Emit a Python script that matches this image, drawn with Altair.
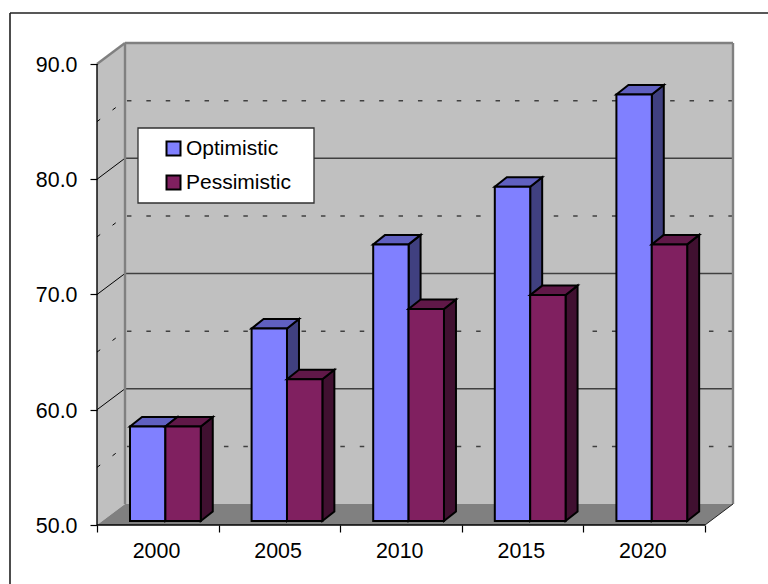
import altair as alt
import pandas as pd

# Series read by year
years = [2000, 2005, 2010, 2015, 2020]
series_names = ["Optimistic", "Pessimistic"]
optimistic = [58.2, 66.7, 74.0, 79.0, 87.0]
pessimistic = [58.2, 62.3, 68.4, 69.6, 74.0]

# Face shades per series: front, top, side
front_colors = ["#8080FF", "#802060"]
top_colors = ["#6060C0", "#601848"]
side_colors = ["#404080", "#401030"]

FONT = "Liberation Sans"
FONT_SIZE = 21
AXIS_FONT_SIZE = 21.4

# Plot size and how the oblique box projects into axis units
WIDTH, HEIGHT = 636, 482
X_MIN, X_FRONT = 1997.5, 2022.5
Y_MIN, Y_FRONT = 50.0, 90.0
DEPTH_X = 1.1513
DEPTH_Y = 1.822

# Bars sit slightly inside the floor and have a shallower depth of their own
BAR_OFFSET = -1.143
BAR_WIDTH = 1.455
BAR_RAISE = 0.347
BAR_DEPTH_X = 0.493
BAR_DEPTH_Y = 0.824

x_scale = alt.Scale(domain=[X_MIN, X_FRONT + DEPTH_X], nice=False, zero=False)
y_scale = alt.Scale(domain=[Y_MIN, Y_FRONT + DEPTH_Y], nice=False, zero=False)

# Ticks stand on the front plane, year labels are centred between them
tick_positions = [y - 2.5 for y in years] + [years[-1] + 2.5]
x_axis = alt.Axis(
    title=None,
    values=tick_positions,
    labelExpr=f"datum.value < {years[-1]} ? format(datum.value + 2.5, 'd') : ''",
    labelOffset=59,
    labelPadding=8,
    labelOverlap=False,
    labelBound=False,
    labelFlush=False,
    domain=False,
    grid=False,
    tickSize=7,
    tickColor="#000000",
    tickWidth=1.2,
    labelFont=FONT,
    labelFontSize=AXIS_FONT_SIZE,
    labelColor="#000000",
    zindex=1,
)
y_axis = alt.Axis(
    title=None,
    values=[50, 60, 70, 80, 90],
    format=".1f",
    labelPadding=13,
    labelOffset=1.5,
    labelOverlap=False,
    labelBound=False,
    labelFlush=False,
    domain=False,
    grid=False,
    tickSize=7,
    tickColor="#000000",
    tickWidth=1.2,
    labelFont=FONT,
    labelFontSize=AXIS_FONT_SIZE,
    labelColor="#000000",
    zindex=1,
)

X = alt.X("x:Q", scale=x_scale, axis=x_axis)
Y = alt.Y("y:Q", scale=y_scale, axis=y_axis)
X2, Y2 = alt.X2("x2:Q"), alt.Y2("y2:Q")


def segments(rows):
    return pd.DataFrame(rows, columns=["x", "x2", "y", "y2"])


def rule_layer(rows, **style):
    return alt.Chart(segments(rows)).mark_rule(**style).encode(x=X, x2=X2, y=Y, y2=Y2)


# Box walls and floor
back_x0, back_x1 = X_MIN + DEPTH_X, X_FRONT + DEPTH_X
back_y0, back_y1 = Y_MIN + DEPTH_Y, Y_FRONT + DEPTH_Y

back_wall = alt.Chart(segments([(back_x0, back_x1, back_y0, back_y1)])).mark_rect(
    fill="#C0C0C0"
).encode(x=X, x2=X2, y=Y, y2=Y2)

side_wall = alt.Chart(pd.DataFrame({
    "x": [X_MIN, back_x0],
    "y": [Y_FRONT, back_y1],
    "y2": [Y_MIN, back_y0],
})).mark_area(fill="#C0C0C0").encode(x=X, y=Y, y2=Y2)

floor = alt.Chart(pd.DataFrame({
    "y": [Y_MIN, back_y0],
    "x": [X_MIN, back_x0],
    "x2": [X_FRONT, back_x1],
})).mark_area(fill="#808080", orient="horizontal").encode(x=X, x2=X2, y=Y)

# Gridlines on the wall and their continuation across the side wall
major = [60, 70, 80]
minor = [55, 65, 75, 85]
grid_major = rule_layer(
    [(back_x0, back_x1, v + DEPTH_Y, v + DEPTH_Y) for v in major], stroke="#404040", strokeWidth=1.3
)
grid_major_side = rule_layer(
    [(X_MIN, back_x0, v, v + DEPTH_Y) for v in major], stroke="#000000", strokeWidth=1
)
grid_minor = rule_layer(
    [(back_x0 + 0.08, back_x1, v + DEPTH_Y, v + DEPTH_Y) for v in minor],
    stroke="#404040", strokeWidth=1.5, strokeDash=[4.5, 14.9],
)
grid_minor_side = rule_layer(
    [(X_MIN, back_x0, v, v + DEPTH_Y) for v in minor],
    stroke="#000000", strokeWidth=1, strokeDash=[4, 15.4],
)

wall_edges = rule_layer(
    [
        (X_MIN, back_x0, Y_FRONT, back_y1),
        (back_x0, back_x1, back_y1, back_y1),
        (back_x0, back_x0, back_y0, back_y1),
        (back_x1, back_x1, back_y0, back_y1),
    ],
    stroke="#808080", strokeWidth=2.4,
)
floor_edge = rule_layer(
    [(X_FRONT, back_x1, Y_MIN, back_y0)], stroke="#202020", strokeWidth=1
)
front_edges = rule_layer(
    [
        (X_MIN, X_MIN, Y_MIN, Y_FRONT),
        (X_MIN, X_FRONT, Y_MIN, Y_MIN),
    ],
    stroke="#000000", strokeWidth=1.4,
)


# Three faces of each bar
def bar_faces(index):
    values = [optimistic, pessimistic][index]
    fronts, tops, sides = [], [], []
    for year, value in zip(years, values):
        x0 = year + BAR_OFFSET + index * BAR_WIDTH
        x1 = x0 + BAR_WIDTH
        base = Y_MIN + BAR_RAISE
        top = value + BAR_RAISE
        fronts.append({"x": x0, "x2": x1, "y": base, "y2": top, "series": series_names[index]})
        tops.append({"year": year, "shade": top_colors[index], "y": top, "x": x0, "x2": x1})
        tops.append({"year": year, "shade": top_colors[index], "y": top + BAR_DEPTH_Y,
                     "x": x0 + BAR_DEPTH_X, "x2": x1 + BAR_DEPTH_X})
        sides.append({"year": year, "shade": side_colors[index], "x": x1, "y": top, "y2": base})
        sides.append({"year": year, "shade": side_colors[index], "x": x1 + BAR_DEPTH_X,
                      "y": top + BAR_DEPTH_Y, "y2": base + BAR_DEPTH_Y})
    return pd.DataFrame(fronts), pd.DataFrame(tops), pd.DataFrame(sides)


legend = alt.Legend(
    title=None,
    orient="none",
    legendX=66,
    legendY=95,
    padding=0,
    zindex=2,
    symbolType="square",
    symbolSize=196,
    symbolStrokeColor="#000000",
    symbolStrokeWidth=2,
    symbolOpacity=1,
    labelFont=FONT,
    labelFontSize=FONT_SIZE,
    labelColor="#000000",
    labelOffset=2,
    rowPadding=11,
)
fill_scale = alt.Scale(domain=series_names, range=front_colors)

bar_layers = []
for i in range(2):
    front_df, top_df, side_df = bar_faces(i)
    bar_layers.append(
        alt.Chart(side_df).mark_area(stroke="#000000", strokeWidth=2).encode(
            x=X, y=Y, y2=Y2, detail="year:N", fill=alt.Fill("shade:N", scale=None)
        )
    )
    bar_layers.append(
        alt.Chart(top_df).mark_area(stroke="#000000", strokeWidth=2, orient="horizontal").encode(
            x=X, x2=X2, y=Y, detail="year:N", fill=alt.Fill("shade:N", scale=None)
        )
    )
    bar_layers.append(
        alt.Chart(front_df).mark_rect(stroke="#000000", strokeWidth=2).encode(
            x=X, x2=X2, y=Y, y2=Y2,
            fill=alt.Fill("series:N", scale=fill_scale, legend=legend),
        )
    )

# Legend background box and the outer chart frame
one_row = pd.DataFrame({"a": [0]})
legend_box = alt.Chart(one_row).mark_rect(fill="#FFFFFF", stroke="#303030", strokeWidth=1.3).encode(
    x=alt.value(41), x2=alt.value(217), y=alt.value(85), y2=alt.value(160)
)
frame_top = alt.Chart(one_row).mark_rule(stroke="#202020", strokeWidth=1.6).encode(
    x=alt.value(-87), x2=alt.value(671), y=alt.value(-30)
)
frame_left = alt.Chart(one_row).mark_rule(stroke="#202020", strokeWidth=1.6).encode(
    x=alt.value(-87), y=alt.value(-30), y2=alt.value(541)
)

chart = alt.layer(
    back_wall, side_wall, floor,
    grid_major, grid_major_side, grid_minor, grid_minor_side,
    wall_edges, floor_edge, front_edges,
    legend_box,
    *bar_layers,
    frame_top, frame_left,
).properties(
    width=WIDTH,
    height=HEIGHT,
    padding={"left": 97, "top": 43, "right": 35, "bottom": 59},
    autosize=alt.AutoSizeParams(type="none"),
    background="#FFFFFF",
).configure_view(stroke=None)

chart.save("out.html", embed_options={"renderer": "svg", "actions": False})
